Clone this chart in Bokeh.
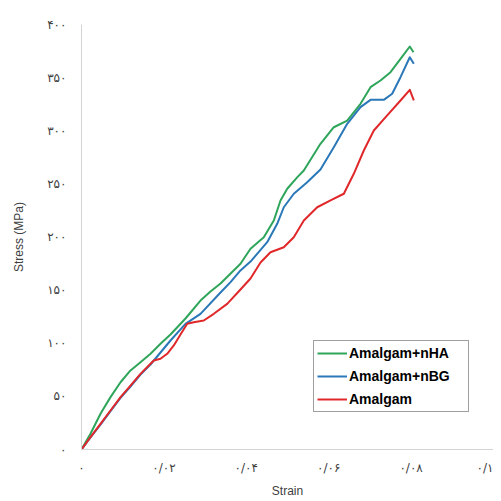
from bokeh.plotting import figure
from bokeh.models import Range1d, FixedTicker, Legend, LegendItem
from bokeh.embed import file_html
from bokeh.resources import INLINE

# Amalgam+nHA
nha_strain = [0.0, 0.00218, 0.00461, 0.00704, 0.00947, 0.01189, 0.01432, 0.01675, 0.01917,
              0.0216, 0.02524, 0.02888, 0.03131, 0.03374, 0.03859, 0.04102, 0.04425, 0.04668,
              0.0483, 0.04993, 0.0524, 0.05396, 0.058, 0.06124, 0.06449, 0.06772, 0.07015,
              0.07257, 0.075, 0.07743, 0.07968, 0.08058]
nha_stress = [0.0, 14.8, 33.6, 49.3, 63.3, 74.4, 82.2, 90.1, 99.5,
              108.2, 123.3, 140.2, 148.7, 156.2, 174.8, 188.9, 199.8, 215.5,
              234.4, 245.4, 256.3, 262.6, 287.7, 303.3, 309.6, 325.4, 341.0,
              347.3, 355.1, 367.7, 379.3, 373.9]
# Amalgam+nBG
nbg_strain = [0.0, 0.00218, 0.00461, 0.00704, 0.00947, 0.01189, 0.01432, 0.01675, 0.01917,
              0.0216, 0.02524, 0.02888, 0.03374, 0.03617, 0.03859, 0.04102, 0.04507, 0.0475,
              0.0491, 0.05153, 0.05478, 0.058, 0.06124, 0.06449, 0.06772, 0.07015, 0.07337,
              0.07541, 0.07743, 0.07968, 0.08066]
nbg_stress = [0.0, 11.3, 23.5, 36.2, 48.5, 59.3, 70.6, 80.0, 91.3,
              102.6, 118.3, 127.7, 147.8, 157.5, 168.5, 176.9, 195.1, 212.4,
              228.0, 240.7, 251.6, 263.5, 284.5, 306.5, 322.2, 329.1, 329.1,
              334.8, 350.4, 369.2, 363.0]
# Amalgam
am_strain = [0.0, 0.00218, 0.00461, 0.00704, 0.00947, 0.01189, 0.01432, 0.01675, 0.01755,
             0.01917, 0.0208, 0.0224, 0.02403, 0.02566, 0.02726, 0.02968, 0.03211, 0.03536,
             0.03859, 0.04102, 0.04345, 0.04587, 0.0491, 0.05153, 0.05396, 0.05721, 0.06044,
             0.06367, 0.06609, 0.06852, 0.07095, 0.0742, 0.07743, 0.07968, 0.08066]
am_stress = [0.0, 11.6, 24.2, 36.7, 49.2, 60.2, 71.2, 80.7, 83.8,
             85.4, 90.1, 97.9, 108.2, 118.3, 119.8, 121.4, 127.7, 137.1,
             150.6, 160.9, 176.0, 185.7, 190.4, 199.8, 215.5, 228.0, 234.4,
             240.7, 259.5, 281.4, 300.2, 314.4, 328.5, 338.5, 328.5]

x_ticks = [0, 0.02, 0.04, 0.06, 0.08, 0.1]
x_tick_labels = ["۰", "۰/۰۲", "۰/۰۴", "۰/۰۶", "۰/۰۸", "۰/۱"]
y_ticks = [0, 50, 100, 150, 200, 250, 300, 350, 400]
y_tick_labels = ["۰", "۵۰", "۱۰۰", "۱۵۰", "۲۰۰", "۲۵۰", "۳۰۰", "۳۵۰", "۴۰۰"]

series_names = ["Amalgam+nHA", "Amalgam+nBG", "Amalgam"]
series_colors = ["#2ea55a", "#2b78b8", "#e0282a"]

p = figure(output_backend="svg", toolbar_location=None,
           frame_width=412, frame_height=425,
           min_border_left=81, min_border_right=0, min_border_top=24, min_border_bottom=50,
           x_range=Range1d(0, 0.1), y_range=Range1d(0, 400))

p.grid.visible = False
p.outline_line_color = None
p.background_fill_color = "white"
p.border_fill_color = "white"

for ax in (p.xaxis[0], p.yaxis[0]):
    ax.axis_line_color = "#d4d4d4"
    ax.axis_line_width = 1
    ax.major_tick_line_color = None
    ax.minor_tick_line_color = None
    ax.major_label_text_font = "DejaVu Sans"
    ax.major_label_text_font_size = "12px"
    ax.major_label_text_color = "#404040"
    ax.axis_label_text_font = "Liberation Sans"
    ax.axis_label_text_font_size = "12px"
    ax.axis_label_text_font_style = "normal"
    ax.axis_label_text_color = "#404040"

p.xaxis.ticker = FixedTicker(ticks=x_ticks)
p.xaxis.major_label_overrides = {t: l for t, l in zip(x_ticks, x_tick_labels)}
p.yaxis.ticker = FixedTicker(ticks=y_ticks)
p.yaxis.major_label_overrides = {t: l for t, l in zip(y_ticks, y_tick_labels)}
p.xaxis.major_label_standoff = 5
p.yaxis.major_label_standoff = 9
p.xaxis.axis_label = "Strain"
p.yaxis.axis_label = "Stress (MPa)"
p.xaxis.axis_label_standoff = 6
p.yaxis.axis_label_standoff = 18

data = [(nha_strain, nha_stress), (nbg_strain, nbg_stress), (am_strain, am_stress)]
items = []
for (xs, ys), name, col in zip(data, series_names, series_colors):
    r = p.line(xs, ys, line_color=col, line_width=2, line_join="round")
    items.append(LegendItem(label=name, renderers=[r]))

legend = Legend(items=items, location=(232, 37),
                border_line_color="#404040", border_line_width=1,
                background_fill_color="white", background_fill_alpha=1,
                label_text_font="Liberation Sans", label_text_font_style="bold",
                label_text_font_size="14px", label_text_color="#000000",
                glyph_width=30, glyph_height=18, label_height=18, label_standoff=2,
                label_width=116, spacing=5, padding=3, margin=0)
p.add_layout(legend, "center")

open("out.html", "w").write(file_html(p, INLINE))
